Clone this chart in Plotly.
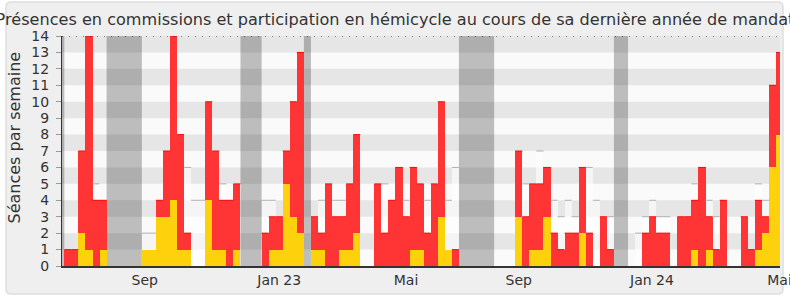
import plotly.graph_objects as go

# ---------------- data ----------------
weeks = list(range(102))
red = [1, 1, 7, 14, 4, 4,
       0, 0, 0, 0, 0,
       1, 1, 4, 7, 14, 8, 2, 0, 0,
       10, 7, 4, 4, 5,
       0, 0, 0,
       2, 3, 3, 7, 10, 13,
       0,
       3, 2, 5, 3, 3, 5, 8,
       0, 0,
       5, 2, 4, 6, 3, 6, 5, 2, 5, 10, 1, 1,
       0, 0, 0, 0, 0,
       0, 0, 0,
       7, 3, 5, 5, 6, 2, 1, 2, 2, 6, 2, 0, 3, 1,
       0, 0,
       0, 0, 2, 3, 2, 2, 0, 3, 3, 4, 6, 3, 1, 4, 0, 0, 3, 1, 4, 3, 11, 13]
yellow = [0, 0, 2, 1, 0, 1,
          0, 0, 0, 0, 0,
          1, 1, 3, 3, 4, 1, 1, 0, 0,
          4, 1, 1, 0, 1,
          0, 0, 0,
          0, 1, 1, 5, 3, 2,
          0,
          1, 1, 0, 0, 1, 1, 2,
          0, 0,
          0, 0, 0, 0, 0, 1, 1, 0, 0, 3, 1, 0,
          0, 0, 0, 0, 0,
          0, 0, 0,
          3, 0, 1, 1, 3, 0, 0, 0, 0, 2, 0, 0, 0, 0,
          0, 0,
          0, 0, 0, 0, 0, 0, 0, 0, 0, 1, 0, 1, 0, 0, 0, 0, 0, 0, 1, 2, 6, 8]
light = [0, 0, 0, 0, 5, 0,
         0, 0, 0, 0, 0,
         2, 2, 0, 0, 0, 0, 6, 4, 4,
         0, 0, 5, 0, 0,
         0, 0, 0,
         4, 4, 0, 0, 0, 0,
         0,
         0, 4, 0, 4, 4, 0, 0,
         0, 0,
         0, 5, 0, 0, 4, 0, 0, 4, 0, 0, 4, 6,
         0, 0, 0, 0, 0,
         0, 0, 0,
         0, 5, 0, 7, 0, 4, 3, 4, 3, 0, 6, 4, 0, 3,
         0, 0,
         0, 2, 3, 4, 3, 3, 0, 0, 0, 5, 0, 4, 3, 0, 0, 0, 0, 0, 5, 4, 0, 0]
vacances = [-1, 6, 7, 8, 9, 10, 25, 26, 27, 34, 56, 57, 58, 59, 60, 78, 79]
tick_pos = [10.92, 30.0, 48.0, 64.0, 82.9, 101.0]
tick_labels = ["Sep", "Jan 23", "Mai", "Sep", "Jan 24", "Mai"]
y_max = 14

# ---------------- layout geometry ----------------
W, H = 790, 300
ML, MR, MT, MB = 62, 10, 36, 34
XMIN, XMAX = -0.83, 101.07
FONT = "DejaVu Sans"

pw = W - ML - MR
ph = H - MT - MB


def px2paper_x(px):
    return (px - ML) / pw


def px2paper_y(py):
    return (H - MB - py) / ph


def seg_trace(vals, color, width, above=None):
    xs, ys = [], []
    for i, (k, v) in enumerate(zip(weeks, vals)):
        if v > 0 and (above is None or v > above[i]):
            xs += [k - 0.5, k + 0.5, None]
            ys += [v, v, None]
    return go.Scatter(x=xs, y=ys, mode="lines", line=dict(color=color, width=width),
                      hoverinfo="skip", showlegend=False)


fig = go.Figure()
fig.add_trace(go.Bar(x=weeks, y=light, width=1, marker=dict(color="rgba(255,255,255,0.6)", line=dict(width=0)),
                     showlegend=False))
fig.add_trace(seg_trace(light, "#b0b0b0", 1, above=red))
fig.add_trace(go.Bar(x=weeks, y=red, width=1, marker=dict(color="#ff3434", line=dict(width=0)),
                     showlegend=False))
fig.add_trace(seg_trace(red, "#f21010", 1, above=yellow))
fig.add_trace(go.Bar(x=weeks, y=yellow, width=1, marker=dict(color="#fdd10b", line=dict(width=0)),
                     showlegend=False))

shapes = []
# outer rounded frame
x0, x1 = px2paper_x(6), px2paper_x(783)
y0, y1 = px2paper_y(294), px2paper_y(2)
rx, ry = 5 / pw, 5 / ph
path = (f"M {x0+rx},{y1} L {x1-rx},{y1} Q {x1},{y1} {x1},{y1-ry} L {x1},{y0+ry} "
        f"Q {x1},{y0} {x1-rx},{y0} L {x0+rx},{y0} Q {x0},{y0} {x0},{y0+ry} "
        f"L {x0},{y1-ry} Q {x0},{y1} {x0+rx},{y1} Z")
shapes.append(dict(type="path", path=path, xref="paper", yref="paper", layer="below",
                   fillcolor="#efefef", line=dict(color="#dedede", width=1.5)))
# plot background
shapes.append(dict(type="rect", xref="x", yref="y", x0=XMIN, x1=XMAX, y0=0, y1=y_max, layer="below",
                   fillcolor="#fafafa", line=dict(width=0)))
# vacation bands (merge consecutive weeks)
runs = []
for k in sorted(vacances):
    if runs and runs[-1][1] == k - 1:
        runs[-1][1] = k
    else:
        runs.append([k, k])
for a, b in runs:
    shapes.append(dict(type="rect", xref="x", yref="y", x0=max(a - 0.5, XMIN), x1=min(b + 0.5, XMAX),
                       y0=0, y1=y_max, layer="below", fillcolor="#bdbdbd", line=dict(width=0)))
# grey stripes
for n in range(1, y_max, 2):
    shapes.append(dict(type="rect", xref="x", yref="y", x0=XMIN, x1=XMAX, y0=n, y1=n + 1, layer="below",
                       fillcolor="rgba(0,0,0,0.08)", line=dict(width=0)))
# dotted line at max
shapes.append(dict(type="line", xref="x", yref="y", x0=XMIN, x1=XMAX, y0=y_max, y1=y_max, layer="above",
                   line=dict(color="#111111", width=1.2, dash="1px,6px")))

fig.update_layout(
    width=W, height=H,
    margin=dict(l=ML, r=MR, t=MT, b=MB, pad=0, autoexpand=False),
    paper_bgcolor="white",
    plot_bgcolor="rgba(0,0,0,0)",
    barmode="overlay",
    bargap=0,
    showlegend=False,
    shapes=shapes,
    font=dict(family=FONT, color="#333333"),
    title=dict(text="Présences en commissions et participation en hémicycle au cours de sa dernière année de mandat",
               x=0.5, xref="container", xanchor="center",
               y=(H - 19) / H, yref="container", yanchor="middle",
               font=dict(family=FONT, size=16.1, color="#333333")),
    xaxis=dict(range=[XMIN, XMAX], tickvals=tick_pos, ticktext=tick_labels, showgrid=False, zeroline=False,
               showline=True, linecolor="#333333", linewidth=1.5, ticks="", automargin=False,
               ticklabeloverflow="allow",
               tickfont=dict(family=FONT, size=14, color="#333333")),
    yaxis=dict(range=[0, y_max], tickmode="linear", tick0=0, dtick=1, showgrid=False, zeroline=False,
               showline=True, linecolor="#333333", linewidth=1, ticks="outside", ticklen=5,
               tickcolor="#999999", tickwidth=1, ticklabelstandoff=4, automargin=False,
               tickfont=dict(family=FONT, size=14, color="#333333")),
    annotations=[dict(text="Séances par semaine", xref="paper", yref="paper",
                      x=px2paper_x(13.5), y=px2paper_y(138), xanchor="center", yanchor="middle",
                      textangle=-90, showarrow=False,
                      font=dict(family=FONT, size=16, color="#333333"))],
)

fig.write_html("out.html")
